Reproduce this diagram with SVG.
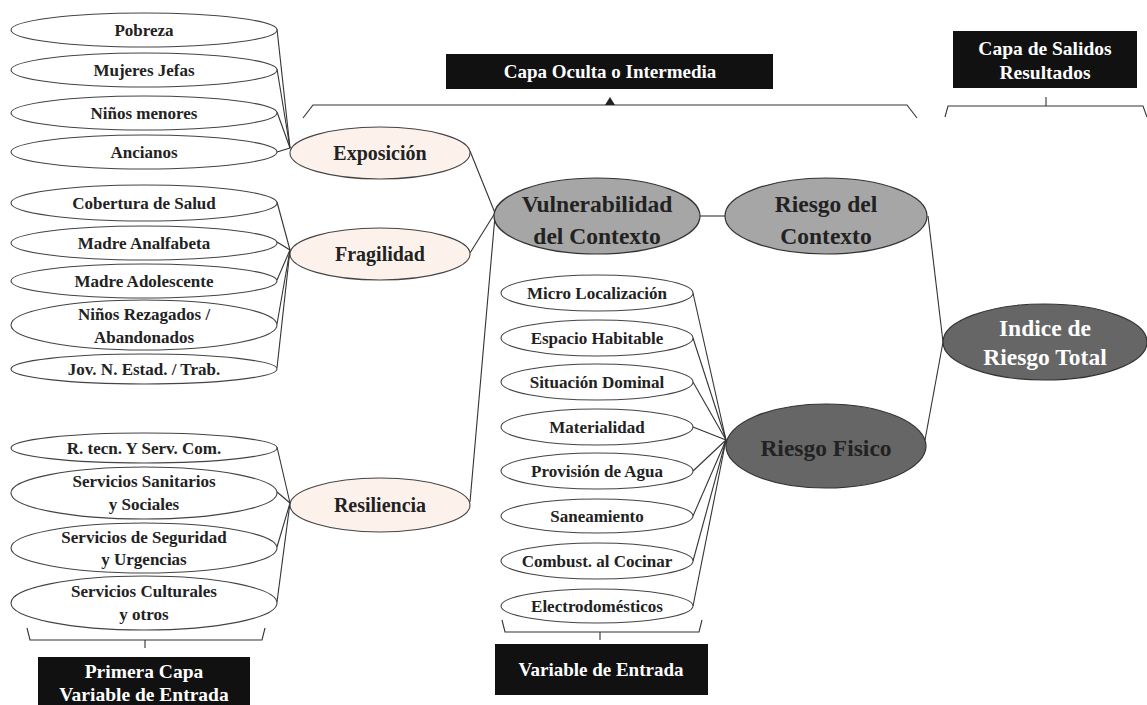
<svg xmlns="http://www.w3.org/2000/svg" width="1147" height="705" viewBox="0 0 1147 705">
<style>
text{font-family:"Liberation Serif","Times New Roman",serif;font-weight:bold;text-anchor:middle}
.in{fill:#fff;stroke:#444;stroke-width:1.1}
.mid{fill:#fdf2eb;stroke:#444;stroke-width:1.1}
.g1{fill:#a6a6a6;stroke:#333;stroke-width:1.2}
.g2{fill:#666;stroke:#333;stroke-width:1.2}
.s{font-size:17px;fill:#222}
.m{font-size:20px;fill:#222}
.l{font-size:23.5px;fill:#222}
.lw{font-size:23.5px;fill:#fff}
.box{fill:#111}
.bt{font-size:19px;fill:#fff}
.bt2{font-size:19.5px;fill:#fff}
.c{stroke:#333;stroke-width:1.1;fill:none}
</style>
<g id="connectors" class="c">
<line x1="277" y1="29" x2="290" y2="148"/>
<line x1="277" y1="69" x2="290" y2="148"/>
<line x1="277" y1="112" x2="290" y2="148"/>
<line x1="277" y1="152" x2="290" y2="148"/>
<line x1="277" y1="202" x2="290" y2="250"/>
<line x1="277" y1="242" x2="290" y2="250"/>
<line x1="277" y1="280" x2="290" y2="250"/>
<line x1="277" y1="324" x2="290" y2="250"/>
<line x1="277" y1="368" x2="290" y2="250"/>
<line x1="277" y1="447" x2="290" y2="503"/>
<line x1="277" y1="492" x2="290" y2="503"/>
<line x1="277" y1="547" x2="290" y2="503"/>
<line x1="277" y1="602" x2="290" y2="503"/>
<line x1="470" y1="151" x2="495" y2="213"/>
<line x1="470" y1="253" x2="495" y2="213"/>
<line x1="470" y1="502" x2="495" y2="216"/>
<line x1="700" y1="216" x2="725" y2="216"/>
<line x1="928" y1="216" x2="943" y2="342"/>
<line x1="925" y1="440" x2="943" y2="342"/>
<line x1="693" y1="293" x2="726" y2="440"/>
<line x1="693" y1="338" x2="726" y2="440"/>
<line x1="693" y1="382" x2="726" y2="440"/>
<line x1="693" y1="427" x2="726" y2="440"/>
<line x1="693" y1="471" x2="726" y2="440"/>
<line x1="693" y1="516" x2="726" y2="440"/>
<line x1="693" y1="561" x2="726" y2="440"/>
<line x1="693" y1="606" x2="726" y2="440"/>
</g>
<g id="brackets" class="c">
<path d="M303,118 L313,105 L907,105 L917,118"/>
<path d="M945,117 L948,106 L1143,106 L1147,117"/>
<line x1="1046" y1="97" x2="1046" y2="106"/>
<path d="M27,628 L30,640 L262,640 L265,628"/>
<line x1="145" y1="640" x2="145" y2="648"/>
<path d="M502,620 L505,632 L699,632 L702,620"/>
<line x1="600" y1="632" x2="600" y2="640"/>
</g>
<polygon points="610,97 605,105 615,105" fill="#222"/>
<g id="n-pobreza"><ellipse class="in" cx="144" cy="30" rx="133" ry="17"/><text class="s" x="144" y="36">Pobreza</text></g>
<g id="n-mujeres"><ellipse class="in" cx="144" cy="70" rx="133" ry="17"/><text class="s" x="144" y="76">Mujeres Jefas</text></g>
<g id="n-ninos"><ellipse class="in" cx="144" cy="113" rx="133" ry="17"/><text class="s" x="144" y="119">Niños menores</text></g>
<g id="n-ancianos"><ellipse class="in" cx="144" cy="152" rx="133" ry="17"/><text class="s" x="144" y="158">Ancianos</text></g>
<g id="n-cobertura"><ellipse class="in" cx="144" cy="203" rx="133" ry="18"/><text class="s" x="144" y="209">Cobertura de Salud</text></g>
<g id="n-analfabeta"><ellipse class="in" cx="144" cy="243" rx="133" ry="17"/><text class="s" x="144" y="249">Madre Analfabeta</text></g>
<g id="n-adolescente"><ellipse class="in" cx="144" cy="281" rx="133" ry="17"/><text class="s" x="144" y="287">Madre Adolescente</text></g>
<g id="n-rezagados"><ellipse class="in" cx="144" cy="325" rx="133" ry="25"/><text class="s" x="144" y="320">Niños Rezagados /</text><text class="s" x="144" y="343">Abandonados</text></g>
<g id="n-jov"><ellipse class="in" cx="144" cy="369" rx="133" ry="15"/><text class="s" x="144" y="375">Jov. N. Estad. / Trab.</text></g>
<g id="n-rtecn"><ellipse class="in" cx="144" cy="448" rx="133" ry="15"/><text class="s" x="144" y="454">R. tecn. Y Serv. Com.</text></g>
<g id="n-sanitarios"><ellipse class="in" cx="144" cy="493" rx="133" ry="26"/><text class="s" x="144" y="487">Servicios Sanitarios</text><text class="s" x="144" y="510">y Sociales</text></g>
<g id="n-seguridad"><ellipse class="in" cx="144" cy="548" rx="133" ry="25"/><text class="s" x="144" y="543">Servicios de Seguridad</text><text class="s" x="144" y="565">y Urgencias</text></g>
<g id="n-culturales"><ellipse class="in" cx="144" cy="603" rx="133" ry="27"/><text class="s" x="144" y="597">Servicios Culturales</text><text class="s" x="144" y="620">y otros</text></g>
<g id="n-exposicion"><ellipse class="mid" cx="380" cy="153" rx="90" ry="26"/><text class="m" x="380" y="160">Exposición</text></g>
<g id="n-fragilidad"><ellipse class="mid" cx="380" cy="254" rx="90" ry="26"/><text class="m" x="380" y="261">Fragilidad</text></g>
<g id="n-resiliencia"><ellipse class="mid" cx="380" cy="505" rx="90" ry="27"/><text class="m" x="380" y="512">Resiliencia</text></g>
<g id="n-vulnerabilidad"><ellipse class="g1" cx="597" cy="216" rx="103" ry="38"/><text class="l" x="597" y="212">Vulnerabilidad</text><text class="l" x="597" y="244">del Contexto</text></g>
<g id="n-riesgoctx"><ellipse class="g1" cx="826" cy="216" rx="101" ry="38"/><text class="l" x="826" y="212">Riesgo del</text><text class="l" x="826" y="244">Contexto</text></g>
<g id="n-indice"><ellipse class="g2" cx="1045" cy="342" rx="102" ry="38"/><text class="lw" x="1045" y="336">Indice de</text><text class="lw" x="1045" y="365">Riesgo Total</text></g>
<g id="n-riesgofis"><ellipse class="g2" cx="826" cy="446" rx="100" ry="42"/><text class="l" x="826" y="456">Riesgo Fisico</text></g>
<g id="n-micro"><ellipse class="in" cx="597" cy="293" rx="96" ry="18"/><text class="s" x="597" y="299">Micro Localización</text></g>
<g id="n-espacio"><ellipse class="in" cx="597" cy="338" rx="96" ry="18"/><text class="s" x="597" y="344">Espacio Habitable</text></g>
<g id="n-situacion"><ellipse class="in" cx="597" cy="382" rx="96" ry="18"/><text class="s" x="597" y="388">Situación Dominal</text></g>
<g id="n-materialidad"><ellipse class="in" cx="597" cy="427" rx="96" ry="18"/><text class="s" x="597" y="433">Materialidad</text></g>
<g id="n-agua"><ellipse class="in" cx="597" cy="471" rx="96" ry="18"/><text class="s" x="597" y="477">Provisión de Agua</text></g>
<g id="n-saneamiento"><ellipse class="in" cx="597" cy="516" rx="96" ry="17"/><text class="s" x="597" y="522">Saneamiento</text></g>
<g id="n-combust"><ellipse class="in" cx="597" cy="561" rx="96" ry="18"/><text class="s" x="597" y="567">Combust. al Cocinar</text></g>
<g id="n-electro"><ellipse class="in" cx="597" cy="606" rx="96" ry="17"/><text class="s" x="597" y="612">Electrodomésticos</text></g>
<g id="label-oculta"><rect class="box" x="446" y="54" width="327" height="35"/><text class="bt" x="610" y="78">Capa Oculta o Intermedia</text></g>
<g id="label-salidos"><rect class="box" x="953" y="31" width="184" height="57"/><text class="bt2" x="1045" y="55">Capa de Salidos</text><text class="bt2" x="1045" y="79">Resultados</text></g>
<g id="label-primera"><rect class="box" x="38" y="657" width="212" height="50"/><text class="bt2" x="144" y="678">Primera Capa</text><text class="bt2" x="144" y="701">Variable de Entrada</text></g>
<g id="label-entrada"><rect class="box" x="495" y="644" width="213" height="51"/><text class="bt" x="601" y="676">Variable de Entrada</text></g>
</svg>
